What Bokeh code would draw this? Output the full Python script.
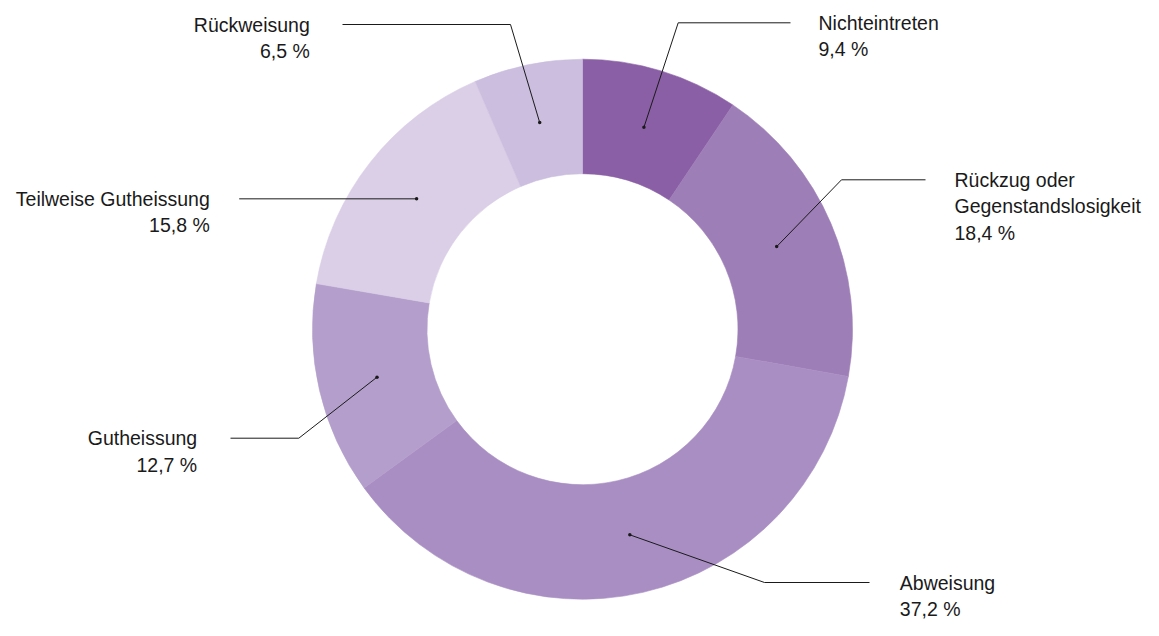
import math
from bokeh.plotting import figure
from bokeh.models import ColumnDataSource, Range1d
from bokeh.core.properties import value
from bokeh.embed import file_html
from bokeh.resources import INLINE

# ---- data ----
categories = ["Nichteintreten", "Rückzug oder\nGegenstandslosigkeit", "Abweisung",
              "Gutheissung", "Teilweise Gutheissung", "Rückweisung"]
shares = [9.4, 18.4, 37.2, 12.7, 15.8, 6.5]
colors = ["#8a5fa5", "#9d7eb7", "#a98ec3", "#b49ecb", "#dacfe7", "#cbbedf"]

# ---- layout (label placement, centred pixel coords, y up; None = at the dot) ----
elbows = [(95.7, 306.4), (259.0, 149.4), (182.0, -253.3),
          (-283.7, -109.0), None, (-72.0, 304.7)]
line_ends = [208.0, 343.0, 287.0, -352.0, -343.3, -240.0]
text_x = [236.0, 372.0, 317.3, -385.3, -372.7, -272.7]
align = ["left", "left", "left", "right", "right", "right"]

R_OUT, R_IN, R_DOT = 270, 155.5, 211
LINE_H = 26.5
FONT = "Liberation Sans"

total = sum(shares)
starts, ends, mids = [], [], []
cum = 0.0
for v in shares:
    a0 = math.pi / 2 - 2 * math.pi * (cum + v) / total
    a1 = math.pi / 2 - 2 * math.pi * cum / total
    starts.append(a0)
    ends.append(a1)
    mids.append((a0 + a1) / 2)
    cum += v

wedges = ColumnDataSource(dict(start=starts, end=ends, color=colors,
                               x=[0] * len(shares), y=[0] * len(shares)))

p = figure(width=1143, height=620, output_backend="svg", toolbar_location=None,
           x_range=Range1d(-582, 561), y_range=Range1d(-291.3, 328.7),
           min_border=0)
p.axis.visible = False
p.grid.visible = False
p.outline_line_color = None
p.background_fill_color = "white"
p.border_fill_color = "white"

p.annular_wedge(x="x", y="y", inner_radius=R_IN, outer_radius=R_OUT,
                start_angle="start", end_angle="end", direction="anticlock",
                fill_color="color", line_color="color", line_width=0.6,
                source=wedges)

dot_x = [R_DOT * math.cos(m) for m in mids]
dot_y = [R_DOT * math.sin(m) for m in mids]

xs, ys, line_y = [], [], []
for i in range(len(shares)):
    ex, ey = elbows[i] if elbows[i] is not None else (dot_x[i], dot_y[i])
    xs.append([dot_x[i], ex, line_ends[i]])
    ys.append([dot_y[i], ey, ey])
    line_y.append(ey)
p.multi_line(xs=xs, ys=ys, line_color="#1a1a1a", line_width=1)
p.scatter(dot_x, dot_y, size=3.5, fill_color="#1a1a1a", line_color=None)

for side in ("left", "right"):
    tx, ty, tt = [], [], []
    for i in range(len(shares)):
        if align[i] != side:
            continue
        lines = categories[i].split("\n") + [f"{shares[i]:.1f}".replace(".", ",") + " %"]
        for k, t in enumerate(lines):
            tx.append(text_x[i])
            ty.append(line_y[i] - k * LINE_H)
            tt.append(t)
    p.text(x=tx, y=ty, text=tt, text_align=side, text_baseline="middle",
           text_font=value(FONT), text_font_size="19.5px", text_color="#1a1a1a")

open("out.html", "w").write(file_html(p, INLINE))
